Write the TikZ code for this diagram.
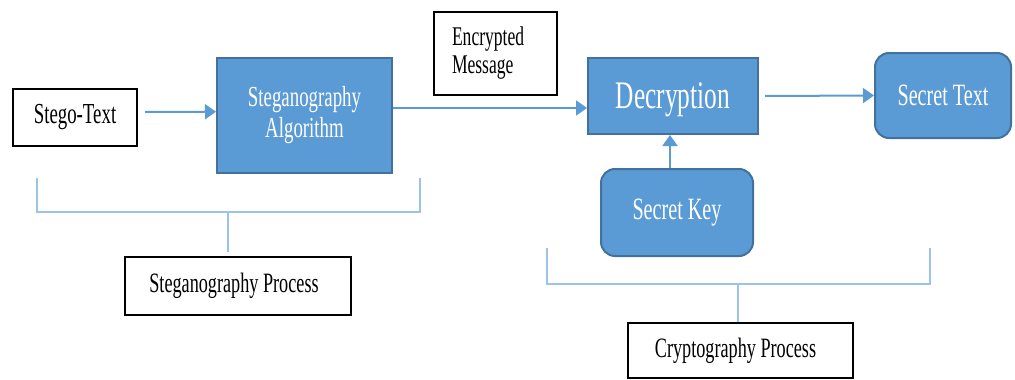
\documentclass[tikz,border=0pt]{standalone}
\usepackage{fontspec}
\setmainfont{Liberation Serif}[FakeStretch=0.65]
\usetikzlibrary{arrows.meta}
\definecolor{fillb}{HTML}{5B9BD5}
\definecolor{edgeb}{HTML}{41719C}
\definecolor{lineb}{HTML}{5B9BD5}
\definecolor{brk}{HTML}{9DC3E6}
\begin{document}
\begin{tikzpicture}[x=1pt,y=-1pt,
  wbox/.style={draw=black, line width=2.2pt, fill=white, inner sep=0pt, font=\fontsize{29}{30}\selectfont},
  bbox/.style={draw=edgeb, line width=2pt, fill=fillb, text=white, inner sep=0pt, align=center},
  rbox/.style={bbox, rounded corners=14pt},
  arr/.style={draw=lineb, line width=2pt, -{Triangle[length=11pt,width=15pt]}},
  brkt/.style={draw=brk, line width=2.5pt}]
\useasboundingbox (0,0) rectangle (1015,380);
% nodes
\node[wbox, minimum width=124pt, minimum height=57pt] (st) at (75,117.5) {Stego-Text};
\node[bbox, minimum width=175pt, minimum height=115pt, font=\fontsize{29}{31}\selectfont] (alg) at (304.5,115.5) {Steganography\\Algorithm};
\node[wbox, minimum height=83pt, inner xsep=18pt, text width=87pt, align=left, font=\fontsize{27}{28}\selectfont] (enc) at (495.5,53.5) {Encrypted\\Message};
\node[bbox, minimum width=170pt, minimum height=76pt, text depth=0pt, font=\fontsize{39}{40}\selectfont] (dec) at (673,96) {Decryption};
\node[rbox, minimum width=136pt, minimum height=85pt, font=\fontsize{31}{32}\selectfont] (stx) at (943,95.5) {Secret Text};
\node[rbox, minimum width=152pt, minimum height=87pt, font=\fontsize{31}{32}\selectfont] (skey) at (677,212.5) {Secret Key};
\node[wbox, minimum width=226pt, minimum height=58pt, font=\fontsize{28}{30}\selectfont] (sp) at (238,286) {\hspace*{-8pt}Steganography Process};
\node[wbox, minimum width=225pt, minimum height=55pt, font=\fontsize{28}{30}\selectfont] (cp) at (740.5,350.5) {\hspace*{-10pt}Cryptography Process};
% arrows
\draw[arr] ([xshift=7pt,yshift=5.5pt]st.east) -- ([yshift=3.8pt]alg.west);
\draw[arr] ([yshift=7.5pt]alg.east) -- ([yshift=-12pt]dec.west);
\draw[arr] ([xshift=6pt]dec.east) -- (stx.west);
\draw[arr] ([xshift=-7pt]skey.north) -- ([xshift=-3pt]dec.south);
% brackets
\coordinate (sl) at (37,178);
\coordinate (sr) at (420,178);
\coordinate (sm) at (228,212);
\draw[brkt] (sl) -- (sl |- sm) -- (sr |- sm) -- (sr);
\draw[brkt] (sm) -- ([yshift=4pt]sp.north -| sm);
\coordinate (cl) at (547,248);
\coordinate (cr) at (930,248);
\coordinate (cm) at (738,284);
\draw[brkt] (cl) -- (cl |- cm) -- (cr |- cm) -- (cr);
\draw[brkt] (cm) -- (cp.north -| cm);
\end{tikzpicture}
\end{document}
